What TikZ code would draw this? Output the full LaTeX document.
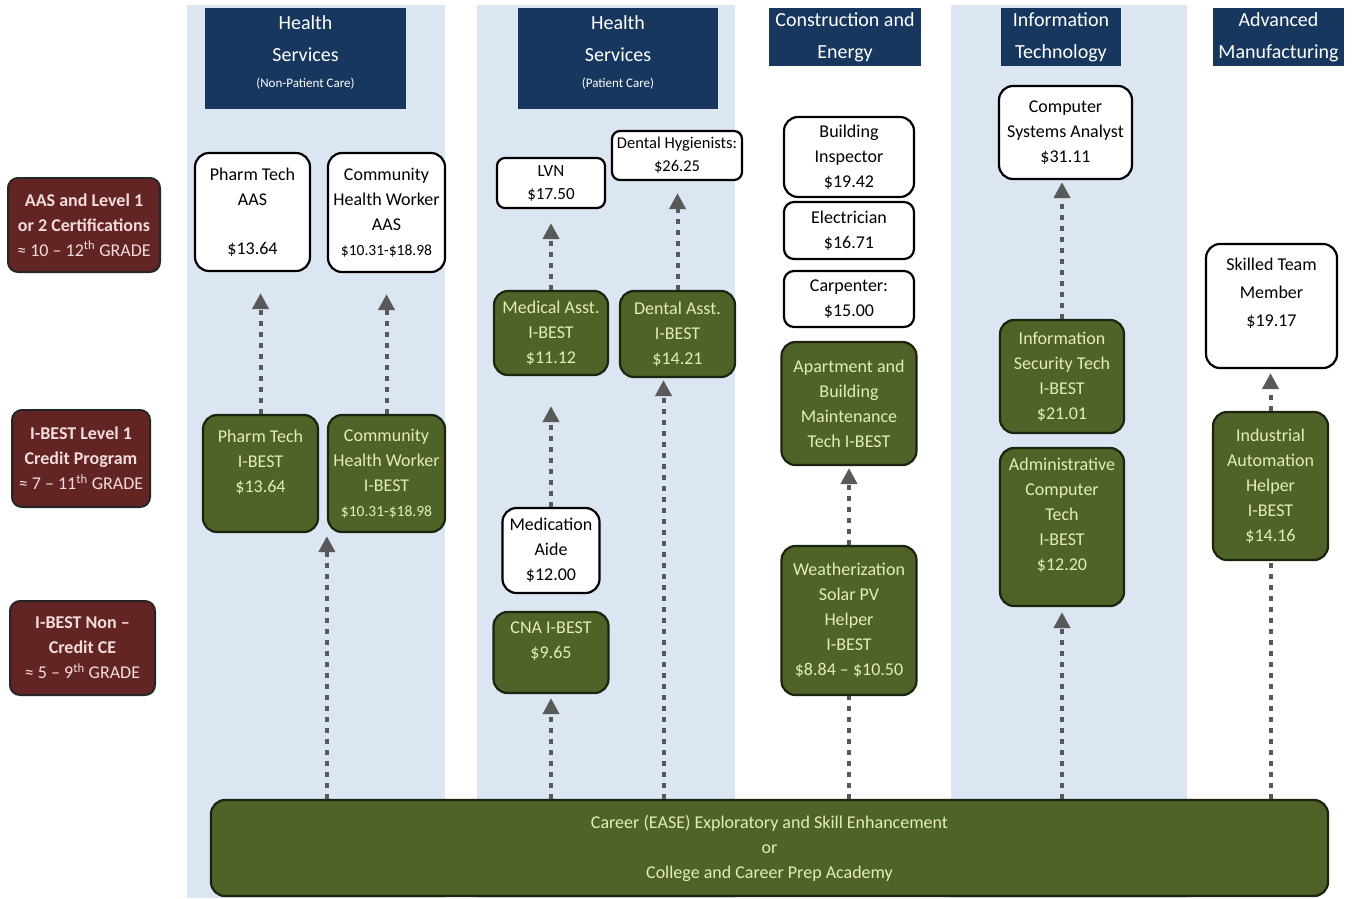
\documentclass[tikz,border=0pt]{standalone}
\usepackage{fontspec}
\setmainfont{Carlito}
\usetikzlibrary{arrows.meta}

\definecolor{colblue}{HTML}{DCE6F2}
\definecolor{navy}{HTML}{17375E}
\definecolor{ibgreen}{HTML}{4F6228}
\definecolor{ibdark}{HTML}{1C2410}
\definecolor{ibtext}{HTML}{E3EDB5}
\definecolor{maroon}{HTML}{632523}
\definecolor{maroontext}{HTML}{F2DCDB}
\definecolor{flowgray}{HTML}{595959}

\tikzset{
  whitebox/.style={draw=black,line width=2.2pt,fill=white,rounded corners=14pt,
    align=center,font=\fontsize{18}{25}\selectfont,inner sep=2pt},
  ibestbox/.style={whitebox,draw=ibdark,fill=ibgreen,text=ibtext},
  headbox/.style={fill=navy,text=white,align=center,font=\fontsize{20}{32}\selectfont,inner sep=2pt},
  levelbox/.style={draw=black!85,line width=2pt,fill=maroon,text=maroontext,rounded corners=10pt,
    align=center,font=\fontsize{18}{25}\selectfont,inner sep=2pt},
  upflow/.style={draw=flowgray,line width=4pt,dash pattern=on 5pt off 6pt,
    -{Triangle[length=16pt,width=16pt]}},
  flowline/.style={draw=flowgray,line width=4pt,dash pattern=on 5pt off 6pt}
}
\newcommand{\smallpay}[1]{{\fontsize{15.5}{25}\selectfont #1}}

\begin{document}
\begin{tikzpicture}[x=1pt,y=-1pt]
\useasboundingbox (0,0) rectangle (1359,898);

% shaded columns
\fill [colblue] (187,5) rectangle (445,898);
\fill [colblue] (477,5) rectangle (735,898);
\fill [colblue] (951,5) rectangle (1187,898);

% column heads
\node [headbox,minimum width=201pt,minimum height=101pt,text depth=14pt] (hsnp) at(305.5,58.5)
  {Health\\Services\\[-6pt]{\fontsize{13}{14}\selectfont (Non-Patient Care)}};
\node [headbox,minimum width=200pt,minimum height=101pt,text depth=14pt] (hsp) at(618,58.5)
  {Health\\Services\\[-6pt]{\fontsize{13}{14}\selectfont (Patient Care)}};
\node [headbox,minimum width=152pt,minimum height=58pt] (ce) at(845,37) {Construction and\\Energy};
\node [headbox,minimum width=120pt,minimum height=58pt] (it) at(1061,37) {Information\\Technology};
\node [headbox,minimum width=131pt,minimum height=58pt] (am) at(1278.5,37) {Advanced\\Manufacturing};

% levels
\node [levelbox,minimum width=152pt,minimum height=94pt] (lvaas) at(84,225)
  {\textbf{AAS and Level 1}\\\textbf{or 2 Certifications}\\≈ 10 – 12\textsuperscript{th} GRADE};
\node [levelbox,minimum width=138pt,minimum height=97pt] (lvcredit) at(81,458.5)
  {\textbf{I-BEST Level 1}\\\textbf{Credit Program}\\≈ 7 – 11\textsuperscript{th} GRADE};
\node [levelbox,minimum width=145pt,minimum height=94pt] (lvce) at(82.5,648)
  {\textbf{I-BEST Non –}\\\textbf{Credit CE}\\≈ 5 – 9\textsuperscript{th} GRADE};

% health services, non-patient care
\node [whitebox,minimum width=115pt,minimum height=118pt] (ptaas) at(252.5,212) {Pharm Tech\\AAS\\[24pt]\$13.64};
\node [whitebox,minimum width=117pt,minimum height=119pt] (chwaas) at(386.5,212.5)
  {Community\\Health Worker\\AAS\\\smallpay{\$10.31-\$18.98}};
\node [ibestbox,minimum width=115pt,minimum height=117pt] (ptib) at(260.5,473.5) {Pharm Tech\\I-BEST\\\$13.64\\\mbox{}};
\node [ibestbox,minimum width=117pt,minimum height=117pt] (chwib) at(386.5,473.5)
  {Community\\Health Worker\\I-BEST\\\smallpay{\$10.31-\$18.98}};

% health services, patient care
\node [whitebox,minimum width=108pt,minimum height=50pt,rounded corners=8pt,font=\fontsize{17}{23}\selectfont] (lvn) at(551,183) {LVN\\\$17.50};
\node [whitebox,minimum width=130pt,minimum height=49pt,rounded corners=8pt,font=\fontsize{16.5}{23}\selectfont] (dhyg) at(677,155.5) {Dental Hygienists:\\\$26.25};
\node [ibestbox,minimum width=114pt,minimum height=84pt] (masst) at(551,333) {Medical Asst.\\I-BEST\\\$11.12};
\node [ibestbox,minimum width=115pt,minimum height=86pt] (dasst) at(677.5,334) {Dental Asst.\\I-BEST\\\$14.21};
\node [whitebox,minimum width=97pt,minimum height=85pt] (maide) at(551,550.5) {Medication\\Aide\\\$12.00};
\node [ibestbox,minimum width=115pt,minimum height=81pt] (cna) at(551,652.5) {CNA I-BEST\\\$9.65\\\mbox{}};

% construction and energy
\node [whitebox,minimum width=130pt,minimum height=80pt] (binsp) at(849,157) {Building\\Inspector\\\$19.42};
\node [whitebox,minimum width=130pt,minimum height=57pt,rounded corners=10pt] (elec) at(849,230.5) {Electrician\\\$16.71};
\node [whitebox,minimum width=130pt,minimum height=56pt,rounded corners=10pt] (carp) at(849,299) {Carpenter:\\\$15.00};
\node [ibestbox,minimum width=135pt,minimum height=123pt] (apt) at(849,403.5)
  {Apartment and\\Building\\Maintenance\\Tech I-BEST};
\node [ibestbox,minimum width=135pt,minimum height=149pt] (weath) at(849,620.5)
  {Weatherization\\Solar PV\\Helper\\I-BEST\\\$8.84 – \$10.50};

% information technology
\node [whitebox,minimum width=133pt,minimum height=93pt] (csa) at(1065.5,132.5) {Computer\\Systems Analyst\\\$31.11};
\node [ibestbox,minimum width=124pt,minimum height=113pt] (isec) at(1062,376.5)
  {Information\\Security Tech\\I-BEST\\\$21.01};
\node [ibestbox,minimum width=124pt,minimum height=158pt] (admin) at(1062,527)
  {Administrative\\Computer\\Tech\\I-BEST\\\$12.20\\\mbox{}};

% advanced manufacturing
\node [whitebox,minimum width=131pt,minimum height=124pt,font=\fontsize{18}{28}\selectfont] (stm) at(1271.5,306)
  {Skilled Team\\Member\\\$19.17\\\mbox{}};
\node [ibestbox,minimum width=115pt,minimum height=148pt] (iah) at(1270.5,486)
  {Industrial\\Automation\\Helper\\I-BEST\\\$14.16};

% entry programme
\node [ibestbox,minimum width=1117pt,minimum height=96pt] (ease) at(769.5,848)
  {Career (EASE) Exploratory and Skill Enhancement\\or\\College and Career Prep Academy};

% pathways
\draw [upflow,shorten >=21pt] (ptib.north) -- (ptib.north |- ptaas.south);
\draw [upflow,shorten >=21pt] (chwib.north) -- (chwib.north |- chwaas.south);
\draw [upflow,shorten >=3pt] (chwib.south west |- ease.north) -- (chwib.south west);

\draw [upflow,shorten >=14pt] (masst.north) -- (lvn.south);
\draw [upflow,shorten >=12pt] (dasst.north) -- (dasst.north |- dhyg.south);
\draw [upflow,shorten >=30pt] (maide.north) -- (masst.south);
\draw [upflow,shorten >=4pt] (cna.south |- ease.north) -- (cna.south);
\draw [upflow,shorten >=2pt] ([xshift=-14pt]dasst.south |- ease.north) -- ([xshift=-14pt]dasst.south);

\draw [upflow,shorten >=2pt] (weath.north) -- (apt.south);
\draw [flowline] (weath.south |- ease.north) -- (weath.south);

\draw [upflow,shorten >=2pt] (isec.north) -- (isec.north |- csa.south);
\draw [upflow,shorten >=5pt] (admin.south |- ease.north) -- (admin.south);

\draw [upflow,shorten >=4pt] (iah.north) -- (iah.north |- stm.south);
\draw [flowline] (iah.south |- ease.north) -- (iah.south);
\end{tikzpicture}
\end{document}
